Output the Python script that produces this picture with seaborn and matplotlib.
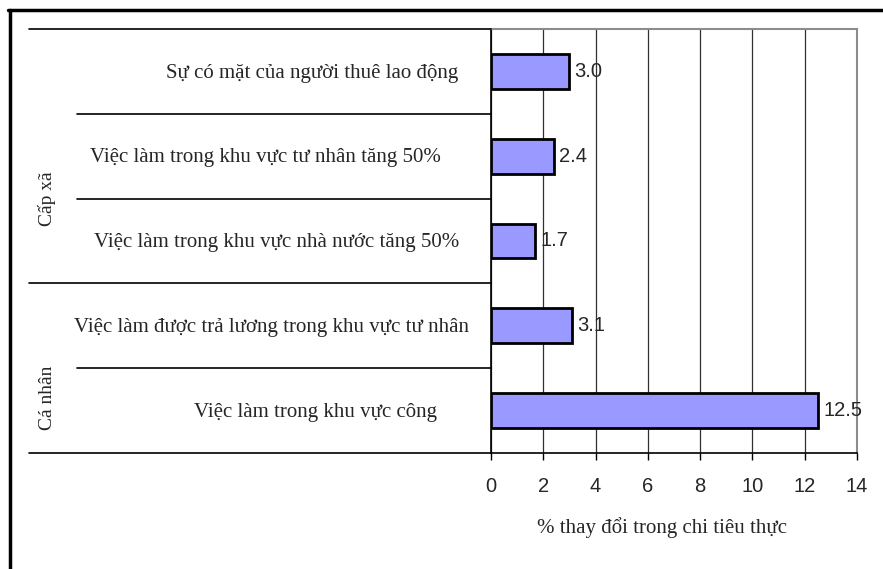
import matplotlib
matplotlib.use("Agg")
import matplotlib.pyplot as plt
from matplotlib.lines import Line2D
import seaborn as sns
import pandas as pd

# Data: effect on real consumption (% change)
categories = [
    "Sự có mặt của người thuê lao động",
    "Việc làm trong khu vực tư nhân tăng 50%",
    "Việc làm trong khu vực nhà nước tăng 50%",
    "Việc làm được trả lương trong khu vực tư nhân",
    "Việc làm trong khu vực công",
]
values = [3.0, 2.4, 1.7, 3.1, 12.5]
groups = ["Cấp xã", "Cá nhân"]
group_sizes = [3, 2]
x_ticks = [0, 2, 4, 6, 8, 10, 12, 14]
x_label = "% thay đổi trong chi tiêu thực"

df = pd.DataFrame({"category": categories, "value": values})

sns.set_theme(style="white")
plt.rcParams["font.family"] = ["Liberation Sans", "DejaVu Sans"]
SERIF = ["Liberation Serif", "DejaVu Serif"]

W, H = 883, 569
fig = plt.figure(figsize=(W / 100, H / 100), dpi=100)
fig.patch.set_facecolor("white")

# plot region in pixels
left, right, top, bottom = 491, 857, 29, 453
lab_left = 29


def fx(px):
    return px / W


def fy(py):
    return 1 - py / H


ax = fig.add_axes([fx(left), fy(bottom), fx(right - left), (bottom - top) / H])
sns.barplot(data=df, x="value", y="category", orient="h", color="#9999FF",
            edgecolor="black", linewidth=2, width=0.41, saturation=1, ax=ax, zorder=3)

ax.set_xlim(0, 14)
ax.set_ylim(len(categories) - 0.5, -0.5)
ax.set_xticks(x_ticks)
ax.set_xticklabels([str(t) for t in x_ticks], fontsize=14.5)
ax.set_yticks([])
ax.set_ylabel("")
ax.set_xlabel(x_label, fontsize=15, family=SERIF)
ax.xaxis.set_label_coords((662 - left) / (right - left), -0.152)
ax.tick_params(axis="x", direction="out", length=5, width=1, color="black",
               bottom=True, pad=12)
ax.grid(axis="x", color="#303030", linewidth=0.9, zorder=0)
ax.set_axisbelow(True)
for side in ["top", "right"]:
    ax.spines[side].set_color("#8c8c8c")
    ax.spines[side].set_linewidth(1.5)
for side in ["left", "bottom"]:
    ax.spines[side].set_color("black")
    ax.spines[side].set_linewidth(1.2)

# value labels at bar ends
for i, v in enumerate(values):
    ax.text(v + 0.2, i, f"{v:.1f}", va="center", ha="left", fontsize=14.5, zorder=4)

# category label panel on the left
axl = fig.add_axes([fx(lab_left), fy(bottom), fx(left - lab_left), (bottom - top) / H])
axl.set_xlim(0, left - lab_left)
axl.set_ylim(len(categories) - 0.5, -0.5)
axl.axis("off")

# horizontal centre of each wrapped label box (pixels)
label_centers = [312, 265, 277, 271, 315]
for i, (c, cx) in enumerate(zip(categories, label_centers)):
    axl.text(cx - lab_left, i + 0.02, c, ha="center", va="center", fontsize=15,
             family=SERIF)

# separators: full width at group boundaries, indented between rows
inner_x = 77 - lab_left
boundaries = [-0.5]
acc = 0
for s in group_sizes:
    acc += s
    boundaries.append(acc - 0.5)
for k in range(len(categories) + 1):
    yb = k - 0.5
    x0 = 0 if yb in boundaries else inner_x
    axl.plot([x0, left - lab_left], [yb, yb], color="black", lw=1.2, clip_on=False)

# group labels, rotated
group_label_pos = [1.5, 3.85]
for g, yp in zip(groups, group_label_pos):
    axl.text(47 - lab_left, yp, g, rotation=90, ha="center", va="center",
             fontsize=14, family=SERIF)

# outer frame (top and left edges)
fig.add_artist(Line2D([fx(9.5), fx(9.5)], [0, fy(9.5)], color="black", lw=2.5))
fig.add_artist(Line2D([fx(8.3), 1], [fy(9.5), fy(9.5)], color="black", lw=2.5))

fig.savefig("out.png", dpi=100)
